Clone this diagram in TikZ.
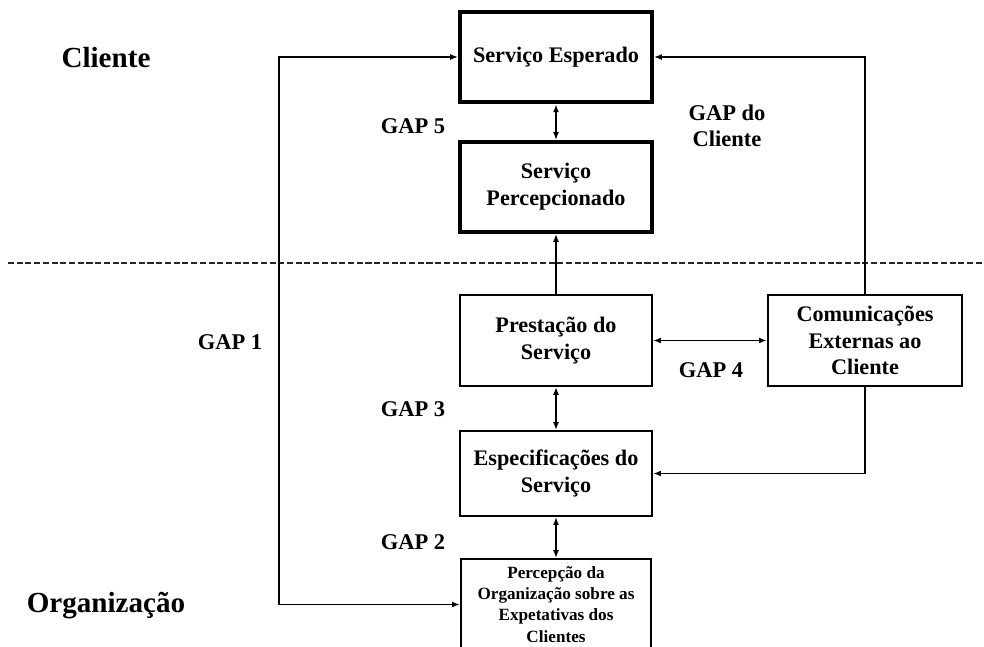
\documentclass[tikz,border=0pt]{standalone}
\usepackage{fontspec}
\setmainfont{Liberation Serif}
\usetikzlibrary{arrows.meta}

\tikzset{
  caixa/.style={draw, line width=1.7pt, minimum width=4.8cm, minimum height=2.27cm,
    inner sep=2pt, align=center, font=\bfseries\fontsize{15.8}{19}\selectfont},
  caixagrossa/.style={caixa, line width=2.9pt},
  gap/.style={align=center, font=\bfseries\fontsize{16}{18.5}\selectfont},
  lado/.style={font=\bfseries\fontsize{20.7}{24}\selectfont},
  liga/.style={line width=1pt, {Latex[length=5.5pt,width=4.2pt]}-{Latex[length=5.5pt,width=4.2pt]}},
  vai/.style={line width=1pt, -{Latex[length=5.5pt,width=4.2pt]}}
}

\begin{document}
\begin{tikzpicture}[x=0.025cm, y=-0.025cm]
			\useasboundingbox (0,0) rectangle (984,646);
			\clip (0,0) rectangle (984,646);
			%%%%%%%%%%%%%%%%%%%%%%%%%%%%%%%%
			\node[lado] (cliente) at (106,58) {Cliente};
			\node[lado] (organizacao) at (106,606) {Organização};
			\draw[line width=0.9pt, black!85, dash pattern=on 4.3pt off 1.9pt] (8,263)--(984,263);
			%%%%%%%%%%%%%%%%%%%%%%%%%%%%%%%%
			\node[caixagrossa] (esperado) at (556,57) {Serviço Esperado};
			\node[caixagrossa, minimum height=2.25cm] (percebido) at (556,187) {Serviço\\Percepcionado};
			\node[caixa] (prestacao) at (556,340.5) {Prestação do\\Serviço};
			\node[caixa, minimum height=2.12cm] (especif) at (556,473.5) {Especificações do\\Serviço};
			\node[caixa, minimum width=4.75cm, font=\bfseries\fontsize{12.2}{15}\selectfont] (percepcao) at (556,604.5)
				{Percepção da\\Organização sobre as\\Expetativas dos\\Clientes};
			\node[caixa, minimum width=4.85cm] (comunic) at (865,340.5) {Comunicações\\Externas ao\\Cliente};
			%%%%%%%%%%%%%%%%%%%%%%%%%%%%%
			\coordinate (canto) at (279,57);
			\draw[liga] (esperado) -- (percebido);
			\draw[vai] (prestacao) -- (percebido);
			\draw[liga] (prestacao) -- (especif);
			\draw[liga] (especif) -- (percepcao);
			\draw[liga] (prestacao) -- (comunic);
			\draw[vai] (comunic.north) |- (esperado.east);
			\draw[vai] (comunic.south) |- (especif.east);
			\draw[liga] (esperado.west) -- (canto) |- (percepcao.west);
			%%%%%%%%%%%%%%%%%%%%%%%%%%%%%
			\node[gap] (gap5) at (413,126) {GAP 5};
			\node[gap] (gapcli) at (727,126) {GAP do\\Cliente};
			\node[gap] (gap1) at (230,342) {GAP 1};
			\node[gap] (gap4) at (711,370) {GAP 4};
			\node[gap] (gap3) at (413,409) {GAP 3};
			\node[gap] (gap2) at (413,542) {GAP 2};
		\end{tikzpicture}
\end{document}
